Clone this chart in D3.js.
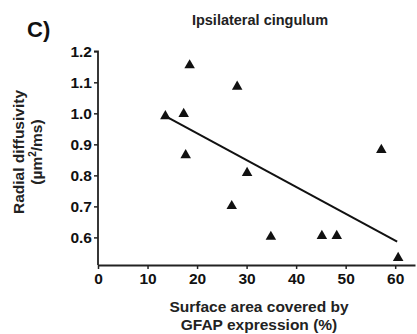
<!DOCTYPE html>
<html>
<head>
<meta charset="utf-8">
<script src="https://cdn.jsdelivr.net/npm/d3@7"></script>
<style>
  body { margin: 0; background: #fff; }
  svg { display: block; font-family: "Liberation Sans", Arial, sans-serif; }
</style>
</head>
<body>
<svg id="chart"></svg>
<script>
// GFAP surface area (%) vs radial diffusivity
const gfapArea = [13.6, 17.3, 18.5, 17.7, 28.1, 30.1, 27.0, 34.9, 45.2, 48.2, 57.2, 60.6];
const radialDiff = [0.991, 0.998, 1.155, 0.865, 1.086, 0.808, 0.701, 0.602, 0.605, 0.605, 0.882, 0.534];
// fitted line end points
const fitX = [13.6, 60.4];
const fitY = [0.991, 0.586];
const xTicks = [0, 10, 20, 30, 40, 50, 60];
const yTicks = [0.6, 0.7, 0.8, 0.9, 1.0, 1.1, 1.2];

const width = 417, height = 334;
const svg = d3.select("#chart").attr("width", width).attr("height", height);

const x = d3.scaleLinear().domain([0, 64]).range([98, 415]);
const y = d3.scaleLinear().domain([0.511, 1.2]).range([265, 51.3]);

// axes
const xAxis = svg.append("g")
  .attr("transform", `translate(0,${y.range()[0]})`)
  .call(d3.axisBottom(x).tickValues(xTicks).tickSize(4).tickSizeOuter(0).tickPadding(4));
const yAxis = svg.append("g")
  .attr("transform", `translate(${x.range()[0]},0)`)
  .call(d3.axisLeft(y).tickValues(yTicks).tickFormat(d3.format(".1f")).tickSize(4).tickSizeOuter(0).tickPadding(2));

[xAxis, yAxis].forEach(a => {
  a.select(".domain").attr("stroke", "#222").attr("stroke-width", 1.8);
  a.selectAll(".tick line").attr("stroke", "#222").attr("stroke-width", 1.5);
  a.selectAll(".tick text").attr("fill", "#111").attr("font-size", 15.5).attr("font-weight", "bold")
    .attr("font-family", "'Liberation Sans', Arial, sans-serif");
});
// top tick of y axis sits at the domain end
yAxis.select(".domain").attr("d", `M-4,${y(1.2)}H0V${y.range()[0]}`);

// fit line
svg.append("line")
  .attr("x1", x(fitX[0])).attr("y1", y(fitY[0]))
  .attr("x2", x(fitX[1])).attr("y2", y(fitY[1]))
  .attr("stroke", "#111").attr("stroke-width", 2);

// points
svg.append("g").selectAll("path")
  .data(gfapArea.map((v, i) => [v, radialDiff[i]]))
  .join("path")
  .attr("transform", d => `translate(${x(d[0])},${y(d[1])})`)
  .attr("d", d3.symbol(d3.symbolTriangle, 48))
  .attr("fill", "#111");

// labels
svg.append("text").attr("x", 27).attr("y", 37)
  .attr("font-size", 22).attr("font-weight", "bold").attr("fill", "#111").text("C)");

svg.append("text").attr("x", 260).attr("y", 25).attr("text-anchor", "middle")
  .attr("font-size", 14.5).attr("font-weight", "bold").attr("fill", "#222").text("Ipsilateral cingulum");

const xt = svg.append("text").attr("text-anchor", "middle").attr("font-size", 15.5)
  .attr("font-weight", "bold").attr("fill", "#222");
xt.append("tspan").attr("x", 259).attr("y", 312).text("Surface area covered by");
xt.append("tspan").attr("x", 259).attr("y", 330).text("GFAP expression (%)");

const yt = svg.append("text").attr("text-anchor", "middle").attr("font-size", 15.5)
  .attr("font-weight", "bold").attr("fill", "#222")
  .attr("transform", "translate(0,152) rotate(-90)");
yt.append("tspan").attr("x", 0).attr("y", 24).text("Radial diffusivity");
const yt2 = yt.append("tspan").attr("x", 0).attr("y", 42);
yt2.append("tspan").text("(µm");
yt2.append("tspan").attr("font-size", 10).attr("dy", -6).text("2");
yt2.append("tspan").attr("dy", 6).text("/ms)");
</script>
</body>
</html>
